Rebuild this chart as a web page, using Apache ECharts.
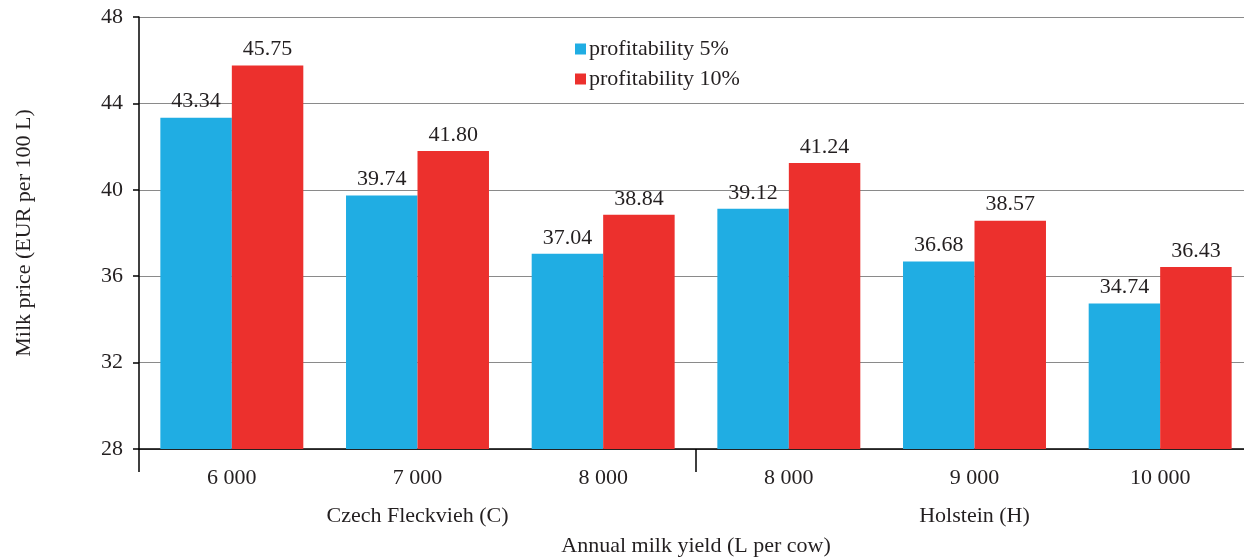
<!DOCTYPE html>
<html><head><meta charset="utf-8">
<script src="https://cdn.jsdelivr.net/npm/echarts@6/dist/echarts.min.js"></script>
<style>html,body{margin:0;padding:0;background:#fff}#c{width:1244px;height:557px}</style>
</head><body><div id="c"></div>
<script>
const categories = ['6 000', '7 000', '8 000', '8 000', '9 000', '10 000'];
const groups = ['Czech Fleckvieh (C)', 'Holstein (H)'];
const profit5 = [43.34, 39.74, 37.04, 39.12, 36.68, 34.74];
const profit10 = [45.75, 41.80, 38.84, 41.24, 38.57, 36.43];
const seriesNames = ['profitability 5%', 'profitability 10%'];
const yTicks = {min: 28, max: 48, interval: 4};

const FONT = '"Liberation Serif", "DejaVu Serif", serif';
const FS = 22;
const TXT = '#231f20';
const chart = echarts.init(document.getElementById('c'));
const lbl = {show: true, position: 'top', distance: 5, fontFamily: FONT, fontSize: FS, color: TXT,
  formatter: p => p.value.toFixed(2)};
chart.setOption({
  animation: false,
  textStyle: {fontFamily: FONT},
  grid: {left: 139, top: 17, width: 1114, height: 432, outerBoundsMode: 'none', containLabel: false},
  legend: {orient: 'vertical', left: 570, top: 33, itemWidth: 11, itemHeight: 11, itemGap: 8,
    icon: 'rect', textStyle: {fontFamily: FONT, fontSize: FS, color: TXT, padding: [0, 0, 0, -2]},
    data: seriesNames},
  xAxis: [{
    type: 'category', data: categories, boundaryGap: true,
    axisLine: {lineStyle: {color: '#000', width: 1.5}},
    axisTick: {length: 6, lineStyle: {color: '#000', width: 1.5}},
    axisLabel: {fontFamily: FONT, fontSize: FS, color: TXT, margin: 18},
    name: 'Annual milk yield (L per cow)', nameLocation: 'middle', nameGap: 86,
    nameTextStyle: {fontFamily: FONT, fontSize: FS, color: TXT}
  }, {
    type: 'category', data: groups, boundaryGap: true, position: 'bottom',
    axisLine: {show: true, lineStyle: {color: 'rgba(0,0,0,0)', width: 0}},
    axisTick: {show: true, length: 23, lineStyle: {color: '#000', width: 1.5}},
    axisLabel: {fontFamily: FONT, fontSize: FS, color: TXT, margin: 56}
  }],
  yAxis: {
    type: 'value', min: yTicks.min, max: yTicks.max, interval: yTicks.interval,
    axisLine: {show: true, lineStyle: {color: '#000', width: 1.5}},
    axisTick: {show: true, length: 6, lineStyle: {color: '#000', width: 1.5}},
    axisLabel: {fontFamily: FONT, fontSize: FS, color: TXT, margin: 16},
    splitLine: {lineStyle: {color: '#8a8a8a', width: 1.2}},
    name: 'Milk price (EUR per 100 L)', nameLocation: 'middle', nameGap: 104, nameRotate: 90,
    nameTextStyle: {fontFamily: FONT, fontSize: FS, color: TXT}
  },
  series: [
    {name: seriesNames[0], type: 'bar', data: profit5, barGap: '0%', barCategoryGap: '23%',
      itemStyle: {color: '#20ade3'}, label: lbl},
    {name: seriesNames[1], type: 'bar', data: profit10,
      itemStyle: {color: '#ec302d'}, label: lbl}
  ]
});
</script></body></html>
